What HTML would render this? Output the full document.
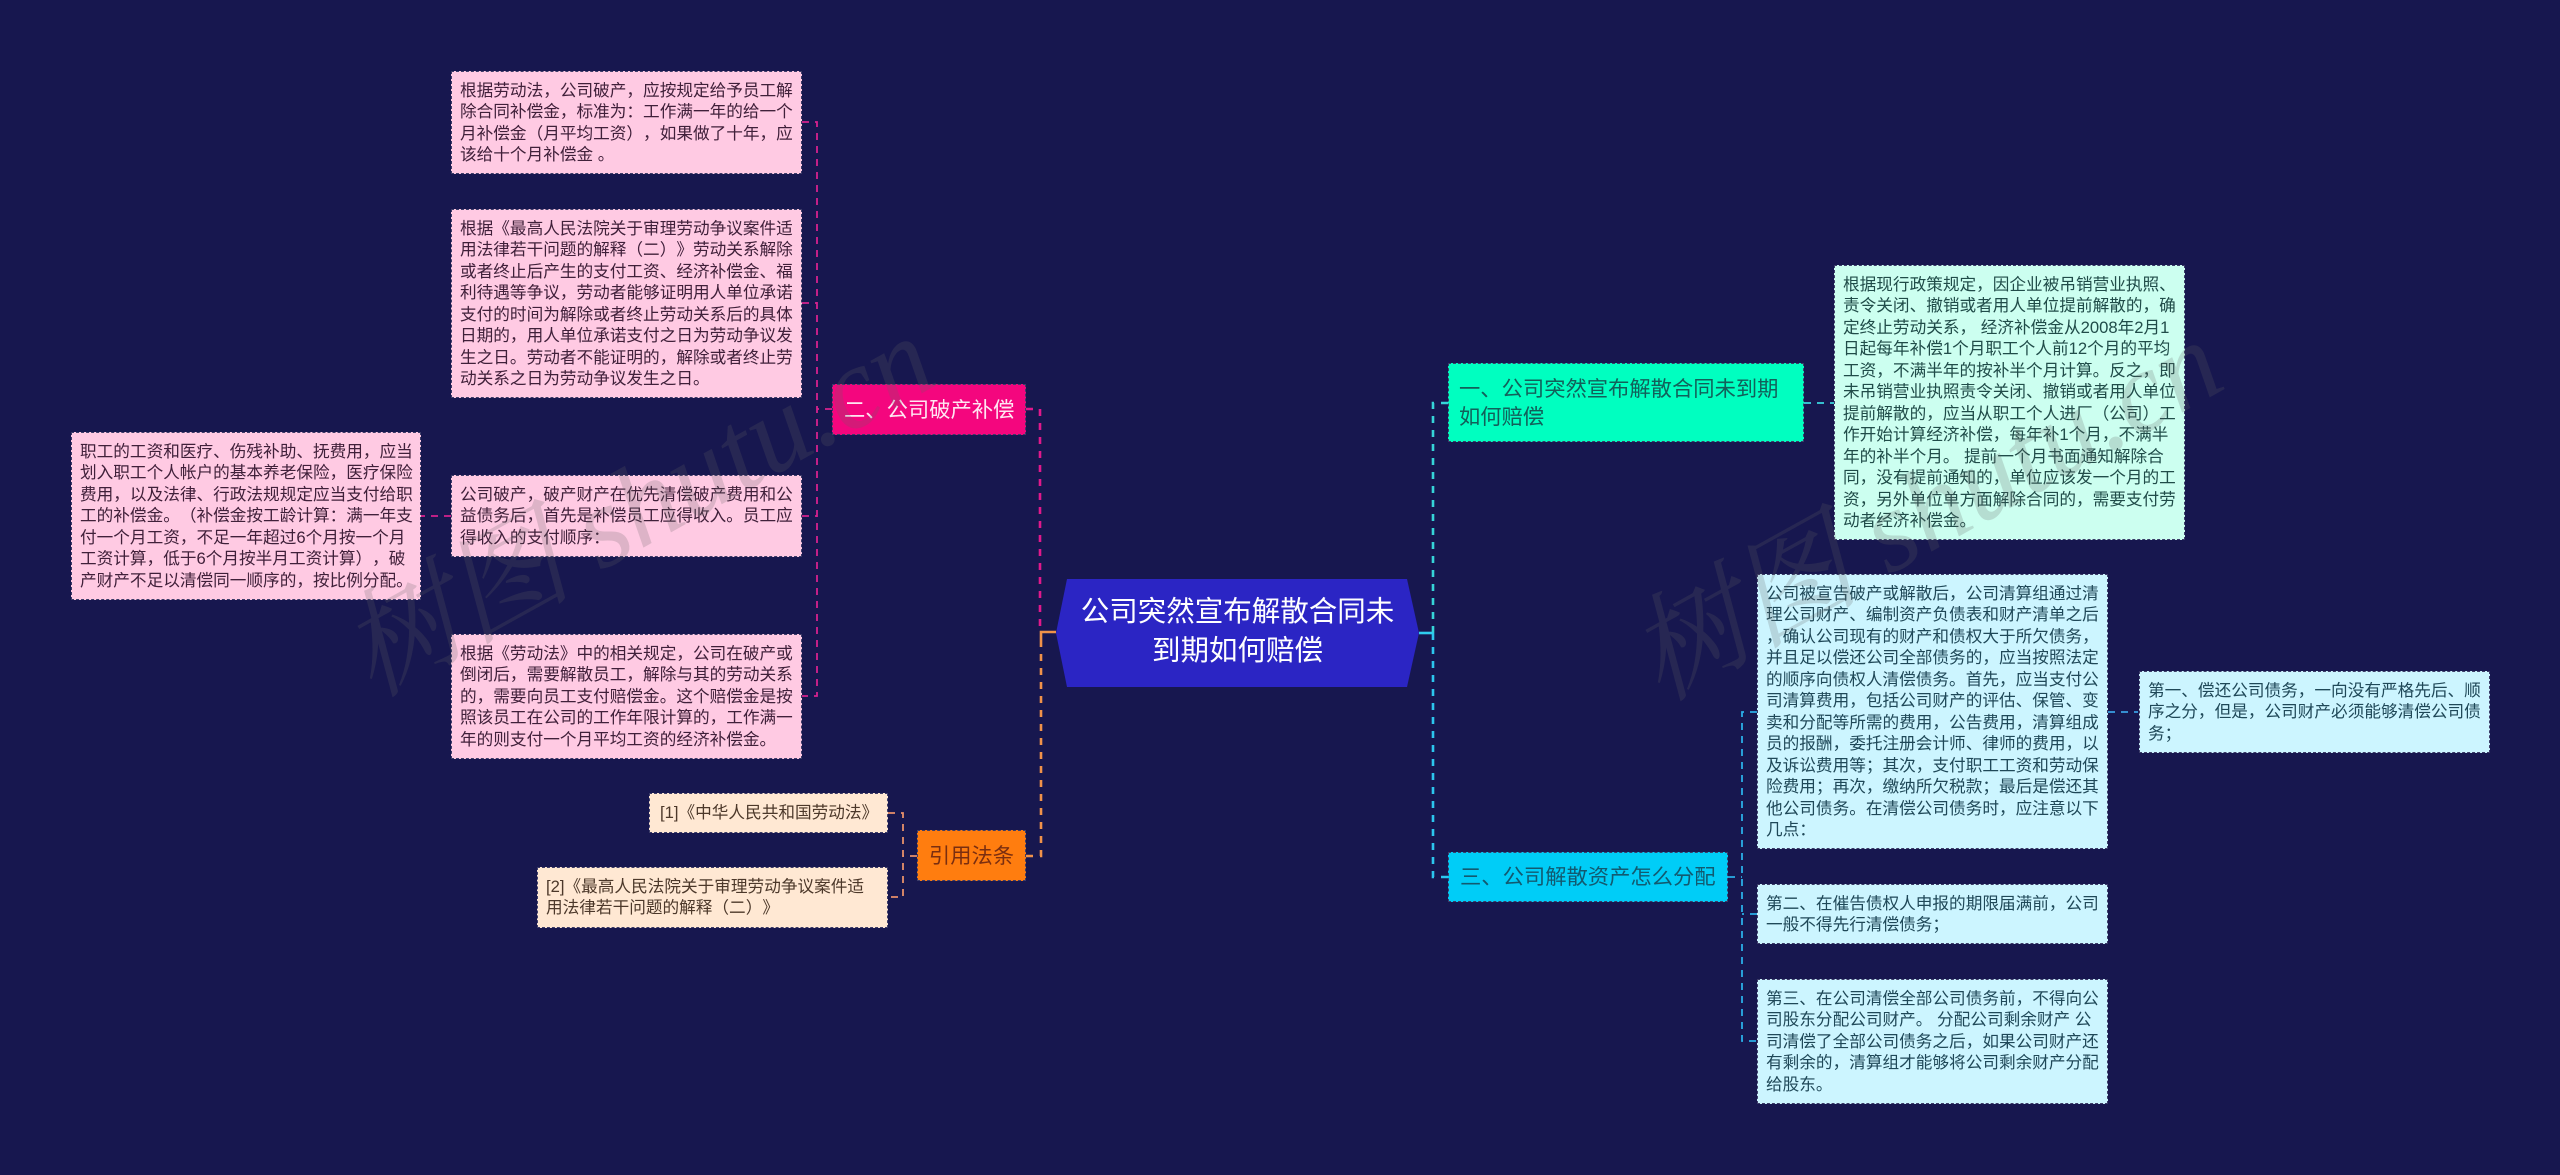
<!DOCTYPE html>
<html lang="zh">
<head>
<meta charset="utf-8">
<title>公司突然宣布解散合同未到期如何赔偿</title>
<style>
html,body{margin:0;padding:0;background:#17174f;}
#c{position:relative;width:2560px;height:1175px;overflow:hidden;background:#17174f;font-family:"Liberation Sans","Noto Sans CJK SC",sans-serif;text-spacing-trim:space-all;}
svg{position:absolute;left:0;top:0;}
.b{position:absolute;box-sizing:border-box;font-size:16.65px;line-height:21.45px;padding:8px;white-space:nowrap;border:1.5px dashed #3c3c68;}
.p{background:#ffcae3;color:#40203a;}
.t{background:#ccfff0;color:#204c49;}
.u{background:#ccf5ff;color:#1f4858;}
.o{background:#ffe8d3;color:#4c382a;}
.n{position:absolute;box-sizing:border-box;font-size:21.3px;line-height:28px;white-space:nowrap;border:1.5px dashed #3c3c68;}
.ctr{position:absolute;left:1056px;top:593px;width:363px;text-align:center;color:#fff;font-size:28.5px;line-height:38.7px;white-space:nowrap;}
</style>
</head>
<body>
<div id="c">
<svg width="2560" height="1175" viewBox="0 0 2560 1175" fill="none">
  <g stroke-width="2.6" stroke-dasharray="7 7">
    <path d="M1026 409H1040V633" stroke="#e0188c"/>
    <path d="M1041 640V856H1026" stroke="#f0924a"/>
    <path d="M1433 633V403H1448" stroke="#36d4d8"/>
    <path d="M1433 633V877H1448" stroke="#2cc6ee"/>
  </g>
  <path d="M1056 632H1041V640" stroke="#f0924a" stroke-width="2.6"/>
  <path d="M1419 633H1433" stroke="#2fcdf0" stroke-width="2.6"/>
  <g stroke-width="1.8" stroke-dasharray="7 6">
    <path d="M832 409H817M802 122H817V696H802M802 303H817M802 516H817M451 516H421" stroke="#d6228f"/>
    <path d="M888 813H903V897H888M917 856H903" stroke="#e8906a"/>
    <path d="M1804 403H1834" stroke="#3bd6e0"/>
    <path d="M1728 877H1742M1757 712H1742V1041H1757M1757 914H1742" stroke="#2aaee8"/>
    <path d="M2108 712H2138" stroke="#3a9fe4"/>
  </g>
  <polygon points="1056,633 1067,579 1407,579 1419,633 1407,687 1067,687" fill="#2b25c4"/>
</svg>

<div class="ctr">公司突然宣布解散合同未<br>到期如何赔偿</div>

<div class="n" style="left:832px;top:384px;width:194px;height:51px;background:#f4067e;color:#ffe6f2;padding:11px 0 0 11px;">二、公司破产补偿</div>
<div class="n" style="left:917px;top:830px;width:109px;height:51px;background:#ff7d0f;color:#7a2e10;padding:11px 0 0;text-align:center;">引用法条</div>
<div class="n" style="left:1448px;top:363px;width:356px;height:79px;background:#00ffc0;color:#12605a;padding:11px 0 0 10px;">一、公司突然宣布解散合同未到期<br>如何赔偿</div>
<div class="n" style="left:1448px;top:852px;width:280px;height:50px;background:#00cdf7;color:#125a70;padding:10px 0 0 11px;">三、公司解散资产怎么分配</div>

<div class="b p" style="left:451px;top:71px;width:351px;height:103px;">根据劳动法，公司破产，应按规定给予员工解<br>除合同补偿金，标准为：工作满一年的给一个<br>月补偿金（月平均工资），如果做了十年，应<br>该给十个月补偿金 。</div>
<div class="b p" style="left:451px;top:209px;width:351px;height:189px;">根据《最高人民法院关于审理劳动争议案件适<br>用法律若干问题的解释（二）》劳动关系解除<br>或者终止后产生的支付工资、经济补偿金、福<br>利待遇等争议，劳动者能够证明用人单位承诺<br>支付的时间为解除或者终止劳动关系后的具体<br>日期的，用人单位承诺支付之日为劳动争议发<br>生之日。劳动者不能证明的，解除或者终止劳<br>动关系之日为劳动争议发生之日。</div>
<div class="b p" style="left:71px;top:432px;width:350px;height:168px;">职工的工资和医疗、伤残补助、抚费用，应当<br>划入职工个人帐户的基本养老保险，医疗保险<br>费用，以及法律、行政法规规定应当支付给职<br>工的补偿金。（补偿金按工龄计算：满一年支<br>付一个月工资，不足一年超过6个月按一个月<br>工资计算，低于6个月按半月工资计算），破<br>产财产不足以清偿同一顺序的，按比例分配。</div>
<div class="b p" style="left:451px;top:475px;width:351px;height:82px;">公司破产，破产财产在优先清偿破产费用和公<br>益债务后，首先是补偿员工应得收入。员工应<br>得收入的支付顺序：</div>
<div class="b p" style="left:451px;top:634px;width:351px;height:125px;">根据《劳动法》中的相关规定，公司在破产或<br>倒闭后，需要解散员工，解除与其的劳动关系<br>的，需要向员工支付赔偿金。这个赔偿金是按<br>照该员工在公司的工作年限计算的，工作满一<br>年的则支付一个月平均工资的经济补偿金。</div>

<div class="b o" style="left:649px;top:793px;width:239px;height:40px;padding-left:10px;">[1]《中华人民共和国劳动法》</div>
<div class="b o" style="left:537px;top:867px;width:351px;height:61px;">[2]《最高人民法院关于审理劳动争议案件适<br>用法律若干问题的解释（二）》</div>

<div class="b t" style="left:1834px;top:265px;width:351px;height:275px;">根据现行政策规定，因企业被吊销营业执照、<br>责令关闭、撤销或者用人单位提前解散的，确<br>定终止劳动关系， 经济补偿金从2008年2月1<br>日起每年补偿1个月职工个人前12个月的平均<br>工资，不满半年的按补半个月计算。反之，即<br>未吊销营业执照责令关闭、撤销或者用人单位<br>提前解散的，应当从职工个人进厂（公司）工<br>作开始计算经济补偿，每年补1个月，不满半<br>年的补半个月。 提前一个月书面通知解除合<br>同，没有提前通知的，单位应该发一个月的工<br>资，另外单位单方面解除合同的，需要支付劳<br>动者经济补偿金。</div>

<div class="b u" style="left:1757px;top:574px;width:351px;height:275px;">公司被宣告破产或解散后，公司清算组通过清<br>理公司财产、编制资产负债表和财产清单之后<br>，确认公司现有的财产和债权大于所欠债务，<br>并且足以偿还公司全部债务的，应当按照法定<br>的顺序向债权人清偿债务。首先，应当支付公<br>司清算费用，包括公司财产的评估、保管、变<br>卖和分配等所需的费用，公告费用，清算组成<br>员的报酬，委托注册会计师、律师的费用，以<br>及诉讼费用等；其次，支付职工工资和劳动保<br>险费用；再次，缴纳所欠税款；最后是偿还其<br>他公司债务。在清偿公司债务时，应注意以下<br>几点：</div>
<div class="b u" style="left:2139px;top:671px;width:351px;height:82px;">第一、偿还公司债务，一向没有严格先后、顺<br>序之分，但是，公司财产必须能够清偿公司债<br>务；</div>
<div class="b u" style="left:1757px;top:884px;width:351px;height:60px;">第二、在催告债权人申报的期限届满前，公司<br>一般不得先行清偿债务；</div>
<div class="b u" style="left:1757px;top:979px;width:351px;height:125px;">第三、在公司清偿全部公司债务前，不得向公<br>司股东分配公司财产。 分配公司剩余财产 公<br>司清偿了全部公司债务之后，如果公司财产还<br>有剩余的，清算组才能够将公司剩余财产分配<br>给股东。</div>

<svg width="2560" height="1175" viewBox="0 0 2560 1175" style="pointer-events:none">
  <g fill="#666666" fill-opacity="0.22" font-family="'Liberation Serif','Noto Serif CJK SC',serif" font-style="italic" font-size="116">
    <text transform="translate(372 698) rotate(-29)">树图 shutu.cn</text>
    <text transform="translate(1660 702) rotate(-29)">树图 shutu.cn</text>
  </g>
</svg>
</div>
</body>
</html>
